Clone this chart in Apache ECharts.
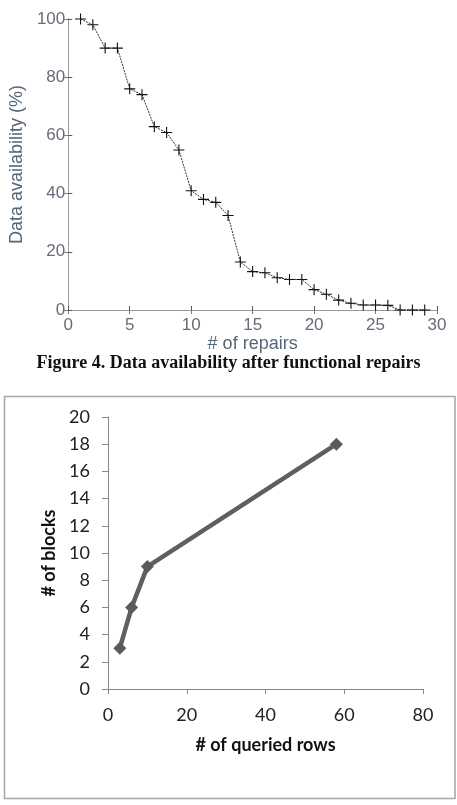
<!DOCTYPE html>
<html lang="en">
<head>
<meta charset="UTF-8">
<title>Data availability / queried rows</title>
<script src="https://cdn.jsdelivr.net/npm/echarts@6/dist/echarts.min.js"></script>
<style>
	html,body{margin:0;padding:0;background:#fff;}
	#main{width:457px;height:805px;}
</style>
</head>
<body>
<div id="main"></div>
<script type="text/javascript">
// figure 4 : data availability after n repairs
var repairs = [1,2,3,4,5,6,7,8,9,10,11,12,13,14,15,16,17,18,19,20,21,22,23,24,25,26,27,28,29];
var availability = [100,98,90,90,76,74,63,61,55,41,38,37,32.5,16.5,13.2,12.8,11.1,10.5,10.5,7,5.4,3.4,2.3,1.7,1.7,1.6,0,0,0];
var repairTicks = [0,5,10,15,20,25,30];
var availTicks = [0,20,40,60,80,100];

// second chart : blocks vs queried rows
var queriedRows = [3,6,10,58];
var blocks = [3,6,9,18];

var plus = 'path://M4.5,0 H5.5 V4.5 H10 V5.5 H5.5 V10 H4.5 V5.5 H0 V4.5 H4.5 Z';
var lblTop = {color:'#6a6a78', fontFamily:'Liberation Sans', fontSize:17};
var lblBot = {color:'#222', fontFamily:'Lato', fontSize:18};

var myChart = echarts.init(document.getElementById('main'));
var option = {
	animation:false,
	backgroundColor:'#fff',
	grid:[
		{left:65, right:20, top:19, bottom:495},
		{left:108, right:34, top:417, bottom:116}
	],
	xAxis:[
		{gridIndex:0, type:'value', min:repairTicks[0], max:repairTicks[repairTicks.length-1], interval:5,
		 name:'# of repairs', nameLocation:'middle', nameGap:24,
		 nameTextStyle:{color:'#556677', fontFamily:'Liberation Sans', fontSize:18},
		 axisLine:{lineStyle:{color:'#555', width:1}},
		 axisTick:{inside:true, length:4, lineStyle:{color:'#555'}},
		 axisLabel:Object.assign({margin:7}, lblTop),
		 splitLine:{show:false}},
		{gridIndex:0, type:'value', position:'top', min:0, max:30, interval:5,
		 axisLine:{lineStyle:{color:'#999'}},
		 axisTick:{inside:true, length:4, lineStyle:{color:'#777'}},
		 axisLabel:{show:false}, splitLine:{show:false}},
		{gridIndex:1, type:'value', min:0, max:80, interval:20,
		 name:'# of queried rows', nameLocation:'middle', nameGap:47,
		 nameTextStyle:{color:'#111', fontFamily:'Lato', fontSize:18, fontWeight:'bold'},
		 axisLine:{lineStyle:{color:'#888'}},
		 axisTick:{length:5, lineStyle:{color:'#888'}},
		 axisLabel:Object.assign({margin:17}, lblBot),
		 splitLine:{show:false}}
	],
	yAxis:[
		{gridIndex:0, type:'value', min:availTicks[0], max:availTicks[availTicks.length-1], interval:20,
		 name:'Data availability (%)', nameLocation:'middle', nameGap:40,
		 nameTextStyle:{color:'#556677', fontFamily:'Liberation Sans', fontSize:18},
		 axisLine:{show:true, lineStyle:{color:'#444'}},
		 axisTick:{show:true, inside:true, length:4, lineStyle:{color:'#555'}},
		 axisLabel:Object.assign({margin:3}, lblTop),
		 splitLine:{show:false}},
		{gridIndex:0, type:'value', position:'right', min:0, max:100, interval:20,
		 axisLine:{show:true, lineStyle:{color:'#999'}},
		 axisTick:{show:true, inside:true, length:4, lineStyle:{color:'#777'}},
		 axisLabel:{show:false}, splitLine:{show:false}},
		{gridIndex:1, type:'value', min:0, max:20, interval:2,
		 name:'# of blocks', nameLocation:'middle', nameGap:47,
		 nameTextStyle:{color:'#111', fontFamily:'Lato', fontSize:18, fontWeight:'bold'},
		 axisLine:{show:true, lineStyle:{color:'#888'}},
		 axisTick:{show:true, length:6, lineStyle:{color:'#888'}},
		 axisLabel:Object.assign({margin:18}, lblBot),
		 splitLine:{show:false}}
	],
	graphic:[
		{type:'text', left:'center', top:354,
		 style:{text:'Figure 4. Data availability after functional repairs', fill:'#111',
		        font:'bold 18px "Liberation Serif"'}},
		{type:'rect', shape:{x:4.5, y:396.5, width:450.5, height:402},
		 style:{fill:'none', stroke:'#a8a8a8', lineWidth:1.6}}
	],
	series:[
		{type:'line', xAxisIndex:0, yAxisIndex:0,
		 data:repairs.map(function(r,i){return [r, availability[i]];}),
		 symbol:plus, symbolSize:11, showAllSymbol:true,
		 itemStyle:{color:'#111'},
		 lineStyle:{color:'#333', width:1, type:[2,1]},
		 clip:false},
		{type:'line', xAxisIndex:2, yAxisIndex:2,
		 data:queriedRows.map(function(r,i){return [r, blocks[i]];}),
		 symbol:'diamond', symbolSize:13,
		 itemStyle:{color:'#5a5a5a'},
		 lineStyle:{color:'#5f5f5f', width:4.5}}
	]
};
myChart.setOption(option);
</script>
</body>
</html>
